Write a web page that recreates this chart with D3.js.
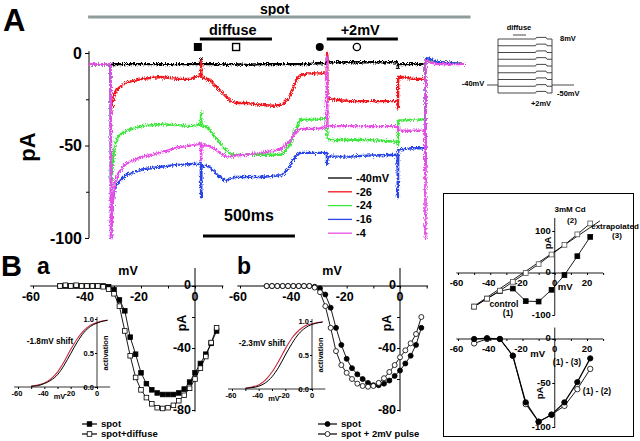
<!DOCTYPE html>
<html><head><meta charset="utf-8">
<script src="https://cdn.jsdelivr.net/npm/d3@7"></script>
<style>
body{margin:0;background:#fff}
svg text{font-family:"Liberation Sans",Arial,sans-serif;font-weight:bold;fill:#000}
</style></head><body>
<svg id="c" width="640" height="441"></svg>
<script>
// ---------------- DATA ----------------
// Panel A: current traces (pA) sampled at these times (ms)
const traceTimes = [0,118,120,122,130,140,160,200,290,390,480,560,605,608,610,612,640,660,700,730,750,770,790,860,930,1000,1050,1090,1110,1130,1150,1190,1240,1290,1293,1295,1297,1310,1420,1510,1675,1678,1680,1682,1700,1760,1825,1828,1830,1832,1850,1900,2045];
const traceM40 = [-6,-6,-7,-6,-6,-6,-6,-6,-6,-6,-6,-6,-6,-6,-3,-6,-6,-6,-6,-6,-6.5,-6,-6,-6.5,-6,-6,-6,-6,-6,-6,-6,-6,-5.5,-5.5,-5.5,-2,-5,-5,-5,-5,-5,-5,-8,-6,-6,-6,-6,-6,-6,-5,-4,-5,-6];
const traceM26 = [-6,-6,-32,-30,-26,-22,-19,-16,-14,-13,-14,-14,-12,-12,-4,-13,-14,-15,-19,-22,-24,-26,-27,-27,-28,-28.5,-28,-24,-19,-14,-12,-11,-11,-11,-11,0,-24,-25,-26,-26,-26,-26,-30,-13,-13,-14,-14,-14,-14,-4,-4,-5,-6];
const traceM24 = [-6,-6,-72,-70,-60,-50,-45,-42,-39.5,-38.5,-39,-39.5,-38.5,-38.5,-32,-39,-40,-42,-47,-51,-53,-54.5,-55,-55,-55,-55,-55,-50,-45,-40,-36,-36,-36,-35,-35,-40,-46,-47,-47,-47,-48,-48,-50,-36.5,-36.5,-36,-36,-36,-36,-3,-4,-5,-6];
const traceM16 = [-6,-6,-100,-92,-79,-73,-70,-66,-63,-61.5,-60.5,-60,-60,-60,-78,-61,-61,-62,-66,-68.5,-69,-68,-67,-67,-67,-66.5,-66,-62,-58,-55,-54,-54,-54,-54,-54,-60,-56,-56,-56,-55.5,-55,-55,-78,-52,-52,-51.5,-51.5,-51.5,-60,-3,-3,-5,-6];
const traceM4  = [-6,-6,-100,-95,-79,-70,-65,-60,-56,-54,-51,-50,-49,-49,-58,-50,-50,-50.5,-53,-55,-56,-56,-55.5,-55,-54,-53,-51.5,-48,-45,-42,-41,-41,-41,-40,-40,-2,-40,-39.5,-39.5,-39.5,-39.5,-39.5,-40,-42,-42,-42,-42,-42,-100,-4,-5,-6,-6];
const traceLabels = ["-40mV","-26","-24","-16","-4"];
const yTicksA = [0,-50,-100];
const yMinorA = [-25,-75];
// Protocol inset (schematic step levels)
const protocolLevels = ["8mV","","","","","","","","-50mV"];

// Panel Ba: I-V (mV, pA)
const vB = [-50,-48,-46,-44,-42,-40,-38,-36,-34,-32,-30,-28,-26,-24,-22,-20,-18,-16,-14,-12,-10,-8,-6,-4,-2,0,2,4,6,8];
const baSpot    = [0,0,0,0,0,0,0,0,0,-0.5,-2.5,-9,-16,-33,-44,-56,-63,-67,-69,-70,-70,-70,-69,-66.5,-62,-56,-50,-44,-37,-29];
const baDiffuse = [0,0.5,0,0.5,0,0,0,0,-0.5,-2,-5,-13,-29,-45,-59,-67,-72,-76,-78.5,-79,-78.5,-77,-74,-70.5,-66,-60,-53,-45.5,-36.5,-27];
// Panel Bb
const bbSpot  = [0,0,0,0,0,0,0,0,0,-0.5,-1.5,-5.5,-14,-27,-38,-47,-53,-57,-60,-62.5,-64,-64,-63,-61,-58,-54.5,-50,-45,-38,-27];
const bbPulse = [0,0,0,0,0,0,0,0,0,-1,-4,-13,-27,-42,-51,-56,-60,-63,-64.5,-65,-64.5,-62.5,-59.5,-55.5,-51,-46,-41.5,-37,-31,-20];
// Insets: activation curves
const vAct = [-50,-45,-40,-35,-30,-25,-20,-15,-10,-5,0,5,8];
const baActSpot = [0.01,0.02,0.05,0.1,0.18,0.32,0.49,0.66,0.8,0.89,0.94,0.97,0.98];
const baActDiff = [0.015,0.03,0.06,0.12,0.22,0.37,0.55,0.71,0.83,0.91,0.95,0.975,0.985];
const bbActSpot = [0.01,0.02,0.04,0.09,0.18,0.32,0.5,0.67,0.81,0.9,0.95,0.975,0.985];
const bbActPulse = [0.01,0.03,0.06,0.13,0.25,0.41,0.59,0.75,0.86,0.93,0.96,0.98,0.99];
const bTicksX = [-60,-40,-20,0];
const bTicksY = [0,-40,-80];
const actTicksX = [-60,-40,-20,0];
const actTicksY = [0,0.5,1];

// Right box
const vR = [-50,-42,-34,-26,-18,-10,-2,6,14,22];
const rCd      = [-80,-61,-42,-21,0,21,44,67,92,118];
const rControl = [-80,-61,-43,-37,-67,-68,-40,-5,40,86];
const rExtrapV = [-52,28];
const rExtrapI = [-84,124];
const rDiff13 = [0,1,0,-19,-72,-94,-86,-72,-49,-22];
const rDiff12 = [-5,0,0,-19,-74,-94,-86,-76,-57,-34];
const rTicksX = [-60,-40,-20,0,20];

// ---------------- DRAWING ----------------
const svg = d3.select("#c");
const colors = ["#000000","#f0141c","#3ee83e","#2a44e6","#e84ee8"];

function txt(x,y,s,size,anchor,rot){
  const t = svg.append("text").attr("x",x).attr("y",y).attr("font-size",size)
    .attr("text-anchor",anchor||"start").attr("dy",".35em").text(s);
  if(rot) t.attr("transform",`rotate(${rot},${x},${y})`);
  return t;
}

// ---- Panel A ----
const tA = d3.scaleLinear().domain([0,2045]).range([89,465]);
const yA = d3.scaleLinear().domain([0,-100]).range([53,238]);

svg.append("text").attr("x",3).attr("y",31).attr("font-size",31).text("A");
txt(tA(1010),9,"spot",14,"middle");
svg.append("line").attr("x1",tA(-5)).attr("x2",tA(2075)).attr("y1",17).attr("y2",17)
  .attr("stroke","#8e9c9c").attr("stroke-width",3);
txt(tA(782),30,"diffuse",14.5,"middle");
txt(tA(1475),30,"+2mV",14.5,"middle");
[[603,995],[1293,1680]].forEach(b=>svg.append("line").attr("x1",tA(b[0])).attr("x2",tA(b[1]))
  .attr("y1",39).attr("y2",39).attr("stroke","#000").attr("stroke-width",3));
svg.append("rect").attr("x",tA(592)-4).attr("y",43).attr("width",8).attr("height",8).attr("fill","#000");
svg.append("rect").attr("x",tA(800)-3.5).attr("y",43.5).attr("width",7).attr("height",7).attr("fill","#fff").attr("stroke","#000").attr("stroke-width",1.4);
svg.append("circle").attr("cx",tA(1255)).attr("cy",47).attr("r",4).attr("fill","#000");
svg.append("circle").attr("cx",tA(1457)).attr("cy",47).attr("r",3.6).attr("fill","#fff").attr("stroke","#000").attr("stroke-width",1.4);

// y axis
const gA = svg.append("g").attr("transform","translate(89,0)");
gA.call(d3.axisLeft(yA).tickValues(yTicksA).tickSize(4).tickSizeOuter(0).tickFormat(d=>d));
gA.select(".domain").remove();
gA.append("g").call(d3.axisLeft(yA).tickValues(yMinorA).tickSize(3).tickFormat(""))
  .select(".domain").remove();
gA.selectAll("text").attr("font-size",16).attr("fill","#000").attr("font-family",null);
gA.selectAll("line").attr("stroke","#000");
svg.append("line").attr("x1",89).attr("x2",89).attr("y1",yA(1)).attr("y2",yA(-100)).attr("stroke","#000");
txt(27,147,"pA",22,"middle",-90);

// noise filter (rendering texture only)
const defs = svg.append("defs");
const f = defs.append("filter").attr("id","nz").attr("filterUnits","userSpaceOnUse")
  .attr("x",80).attr("y",40).attr("width",400).attr("height",210);
f.append("feTurbulence").attr("type","fractalNoise").attr("baseFrequency","1.1 0.6").attr("numOctaves",1).attr("seed",4).attr("result","t");
f.append("feDisplacementMap").attr("in","SourceGraphic").attr("in2","t").attr("scale",6)
  .attr("xChannelSelector","R").attr("yChannelSelector","G");

const lineA = d3.line().x((d,i)=>tA(traceTimes[i])).y(d=>yA(d));
const gT = svg.append("g").attr("filter","url(#nz)");
[traceM40,traceM26,traceM24,traceM16,traceM4].forEach((s,k)=>{
  gT.append("path").attr("d",lineA(s)).attr("fill","none").attr("stroke",colors[k])
    .attr("stroke-width",2.4).attr("stroke-linejoin","round");
});

// legend A
traceLabels.forEach((l,i)=>{
  const y = 178 + i*13.8;
  svg.append("line").attr("x1",328).attr("x2",352).attr("y1",y).attr("y2",y).attr("stroke",colors[i]).attr("stroke-width",1.3);
  txt(356,y,l,11);
});
// scale bar
svg.append("line").attr("x1",tA(620)).attr("x2",tA(1120)).attr("y1",236).attr("y2",236).attr("stroke","#000").attr("stroke-width",3);
txt(tA(870),215,"500ms",16,"middle");

// ---- Protocol inset ----
const pY = d3.scaleLinear().domain([0,protocolLevels.length-1]).range([39,93]);
const pg = svg.append("g").attr("stroke","#333").attr("stroke-width",0.9).attr("fill","none");
protocolLevels.forEach((l,i)=>{
  const y = pY(i);
  pg.append("path").attr("d",`M498,${y}H535.5L536.5,${y-1.6}H546L547,${y}H552`);
});
pg.append("line").attr("x1",498).attr("x2",498).attr("y1",pY(0)).attr("y2",pY(8));
pg.append("line").attr("x1",552).attr("x2",552).attr("y1",pY(0)).attr("y2",pY(8));
pg.append("line").attr("x1",487).attr("x2",498).attr("y1",85).attr("y2",85);
pg.append("line").attr("x1",552).attr("x2",574).attr("y1",85).attr("y2",85);
pg.append("line").attr("x1",513).attr("x2",526).attr("y1",35).attr("y2",35);
txt(519,27,"diffuse",7.5,"middle");
txt(560,38,protocolLevels[0],7.5);
txt(557,93,protocolLevels[8],7.5);
txt(473,83,"-40mV",7.5,"middle");
txt(541,103,"+2mV",7.5,"middle");

// ---- Panel B helpers ----
function ivPanel(o){
  const x = d3.scaleLinear().domain([-60,0]).range(o.xr);
  const y = d3.scaleLinear().domain([0,-80]).range([286,410]);
  const g = svg.append("g");
  g.append("line").attr("x1",x(-61)).attr("x2",x(10.5)).attr("y1",y(0)).attr("y2",y(0)).attr("stroke","#000");
  const gx = g.append("g").attr("transform",`translate(0,${y(0)})`)
    .call(d3.axisBottom(x).tickValues([-60,-50,-40,-30,-20,-10,0,10]).tickSize(2.5).tickFormat(""));
  gx.select(".domain").remove();
  bTicksX.forEach(v=>g.append("text").attr("x",x(v)-(v<0?2:0)).attr("y",297).attr("dy",".35em")
     .attr("font-size",12.5).attr("text-anchor","middle").text(v));
  g.append("line").attr("x1",x(0)).attr("x2",x(0)).attr("y1",268).attr("y2",y(-81)).attr("stroke","#000");
  const gy = g.append("g").attr("transform",`translate(${x(0)},0)`)
    .call(d3.axisLeft(y).tickValues([0,-20,-40,-60,-80]).tickSize(3).tickFormat(""));
  gy.select(".domain").remove();
  g.selectAll("line").attr("stroke","#000");
  bTicksY.forEach(v=>g.append("text").attr("x",x(0)-4).attr("y",y(v)-(v===0?1:0)).attr("dy",".35em")
     .attr("font-size",12.5).attr("text-anchor","end").text(v));
  txt(x(0)-13,323,"pA",12.5,"middle",-90);
  txt(o.mvX,271,"mV",12.5,"middle");
  svg.append("text").attr("x",o.letX).attr("y",274).attr("font-size",23).text(o.letter);

  // inset
  const ix = d3.scaleLinear().domain([-60,0]).range(o.ixr);
  const iy = d3.scaleLinear().domain([0,1]).range([o.iy0,o.iy0-68]);
  svg.append("line").attr("x1",ix(-63)).attr("x2",ix(10)).attr("y1",iy(0)).attr("y2",iy(0)).attr("stroke","#000").attr("stroke-width",0.8);
  svg.append("line").attr("x1",ix(0)).attr("x2",ix(0)).attr("y1",iy(0)).attr("y2",iy(1.03)).attr("stroke","#000").attr("stroke-width",0.8);
  const ixg = svg.append("g").attr("transform",`translate(0,${iy(0)})`).call(d3.axisBottom(ix).tickValues([-60,-50,-40,-30,-20,-10,0]).tickSize(2).tickFormat(""));
  ixg.select(".domain").remove();
  const iyg = svg.append("g").attr("transform",`translate(${ix(0)},0)`).call(d3.axisLeft(iy).tickValues(actTicksY).tickSize(2).tickFormat(""));
  iyg.select(".domain").remove();
  ixg.selectAll("line").attr("stroke","#000"); iyg.selectAll("line").attr("stroke","#000");
  actTicksX.forEach(v=>txt(ix(v)-(v<0?1:0),iy(0)+6,v,7.5,"middle"));
  actTicksY.forEach(v=>txt(ix(0)-3,iy(v),d3.format(".1f")(v),7.5,"end"));
  txt(ix(-30)+2,iy(0)+9,"mV",7.5,"middle");
  txt(ix(0)+8,iy(0.5),"activation",7.5,"middle",-90);
  txt(o.shiftX,iy(0.67),o.shift,8.2,"middle");
  const la = d3.line().x((d,i)=>ix(vAct[i])).y(d=>iy(d)).curve(d3.curveMonotoneX);
  svg.append("path").attr("d",la(o.act2)).attr("fill","none").attr("stroke","#c8283c").attr("stroke-width",1.1);
  svg.append("path").attr("d",la(o.act1)).attr("fill","none").attr("stroke","#000").attr("stroke-width",1);

  const l = d3.line().x((d,i)=>x(vB[i])).y(d=>y(d));
  [o.s1,o.s2].forEach(s=>g.append("path").attr("d",l(s)).attr("fill","none").attr("stroke","#000").attr("stroke-width",0.9));
  const mark = (gg,cx,cy,filled)=>{
    if(o.shape==="sq") gg.append("rect").attr("x",cx-2.3).attr("y",cy-2.3).attr("width",4.6).attr("height",4.6)
        .attr("fill",filled?"#000":"#fff").attr("stroke","#000").attr("stroke-width",0.8);
    else gg.append("circle").attr("cx",cx).attr("cy",cy).attr("r",2.5)
        .attr("fill",filled?"#000":"#fff").attr("stroke","#000").attr("stroke-width",0.8);
  };
  o.s1.forEach((d,i)=>mark(g,x(vB[i]),y(d),true));
  o.s2.forEach((d,i)=>mark(g,x(vB[i]),y(d),false));
  [[424,true,o.l1],[434,false,o.l2]].forEach(r=>{
    svg.append("line").attr("x1",o.legX).attr("x2",o.legX+o.legW).attr("y1",r[0]).attr("y2",r[0]).attr("stroke","#000").attr("stroke-width",1.2);
    mark(svg,o.legX+o.legW/2,r[0],r[1]);
    txt(o.legX+o.legW+4,r[0],r[2],9.5);
  });
}
ivPanel({xr:[33,195],mvX:128,letX:37,letter:"a",ixr:[18,97],iy0:387,shift:"-1.8mV shift",shiftX:50,
  act1:baActSpot,act2:baActDiff,s1:baSpot,s2:baDiffuse,shape:"sq",legX:82,legW:15,l1:"spot",l2:"spot+diffuse"});
ivPanel({xr:[240,400],mvX:332,letX:237,letter:"b",ixr:[232,312],iy0:389,shift:"-2.3mV shift",shiftX:262,
  act1:bbActSpot,act2:bbActPulse,s1:bbSpot,s2:bbPulse,shape:"ci",legX:318,legW:19,l1:"spot",l2:"spot + 2mV pulse"});
svg.append("text").attr("x",1).attr("y",276).attr("font-size",29).text("B");

// ---- Right box ----
svg.append("rect").attr("x",443.5).attr("y",193.5).attr("width",190).attr("height",243).attr("fill","none").attr("stroke","#000").attr("stroke-width",1);
const rx = d3.scaleLinear().domain([-60,20]).range([458,587]);
const ryT = d3.scaleLinear().domain([0,100]).range([273,231]);
const ryB = d3.scaleLinear().domain([0,-100]).range([339,427]);
function rAxes(ry,y0,yTop,yBot,yT){
  svg.append("line").attr("x1",rx(-61)).attr("x2",rx(30)).attr("y1",y0).attr("y2",y0).attr("stroke","#000").attr("stroke-width",0.9);
  svg.append("line").attr("x1",rx(0)).attr("x2",rx(0)).attr("y1",ry(yTop)).attr("y2",ry(yBot)).attr("stroke","#000").attr("stroke-width",0.9);
  const gx = svg.append("g").attr("transform",`translate(0,${y0})`).call(d3.axisBottom(rx).tickValues([-60,-50,-40,-30,-20,-10,0,10,20,30]).tickSize(2).tickFormat(""));
  gx.select(".domain").remove(); gx.selectAll("line").attr("stroke","#000");
  const gy = svg.append("g").attr("transform",`translate(${rx(0)},0)`).call(d3.axisLeft(ry).tickValues(yT).tickSize(2.5).tickFormat(""));
  gy.select(".domain").remove(); gy.selectAll("line").attr("stroke","#000");
  rTicksX.forEach(v=>txt(rx(v)-(v<0?1.5:0),y0+10,v,9.5,"middle"));
  yT.forEach(v=>txt(rx(0)-4,ry(v)-(v===0?1:0),v,9.5,"end"));
}
rAxes(ryT,273,131,-101,[0,100,-100]);
rAxes(ryB,339,13,-101,[0,-50,-100]);
const rl = (ry)=>d3.line().x((d,i)=>rx(vR[i])).y(d=>ry(d));
const rMark=(cx,cy,shape,filled)=>{
  if(shape==="sq") svg.append("rect").attr("x",cx-2.4).attr("y",cy-2.4).attr("width",4.8).attr("height",4.8)
    .attr("fill",filled?"#000":"#fff").attr("stroke",filled?"#000":"#555").attr("stroke-width",0.8);
  else svg.append("circle").attr("cx",cx).attr("cy",cy).attr("r",2.7)
    .attr("fill",filled?"#000":"#fff").attr("stroke","#000").attr("stroke-width",0.8);
};
svg.append("line").attr("x1",rx(rExtrapV[0])).attr("x2",rx(rExtrapV[1])).attr("y1",ryT(rExtrapI[0])).attr("y2",ryT(rExtrapI[1])).attr("stroke","#000").attr("stroke-width",0.9);
svg.append("path").attr("d",rl(ryT)(rCd)).attr("fill","none").attr("stroke","#000").attr("stroke-width",0.9);
svg.append("path").attr("d",rl(ryT)(rControl)).attr("fill","none").attr("stroke","#000").attr("stroke-width",0.9);
rControl.forEach((d,i)=>rMark(rx(vR[i]),ryT(d),"sq",true));
rCd.forEach((d,i)=>{ if(i>0) rMark(rx(vR[i]),ryT(d),"sq",false); });
rMark(rx(vR[0]),ryT(rCd[0]),"sq",false);
svg.append("path").attr("d",rl(ryB)(rDiff12)).attr("fill","none").attr("stroke","#000").attr("stroke-width",0.9);
svg.append("path").attr("d",rl(ryB)(rDiff13)).attr("fill","none").attr("stroke","#000").attr("stroke-width",1.2);
rDiff12.forEach((d,i)=>rMark(rx(vR[i]),ryB(d),"ci",false));
rDiff13.forEach((d,i)=>rMark(rx(vR[i]),ryB(d),"ci",true));
txt(rx(0)-7,243,"pA",9.5,"middle",-90);
txt(rx(0)+3,287,"mV",9.5);
txt(570,209.5,"3mM Cd",8,"middle");
txt(572,220,"(2)",8,"middle");
txt(615,226,"extrapolated",8,"middle");
txt(617,235.5,"(3)",8,"middle");
txt(504,304,"control",8.5,"middle");
txt(508,313.5,"(1)",8.5,"middle");
txt(rx(0)-17,354,"mV",9.5,"middle");
txt(rx(0)-15,393,"pA",9.5,"middle",-90);
txt(567,362,"(1) - (3)",8.5,"middle");
txt(597,391,"(1) - (2)",8.5,"middle");
</script></body></html>
